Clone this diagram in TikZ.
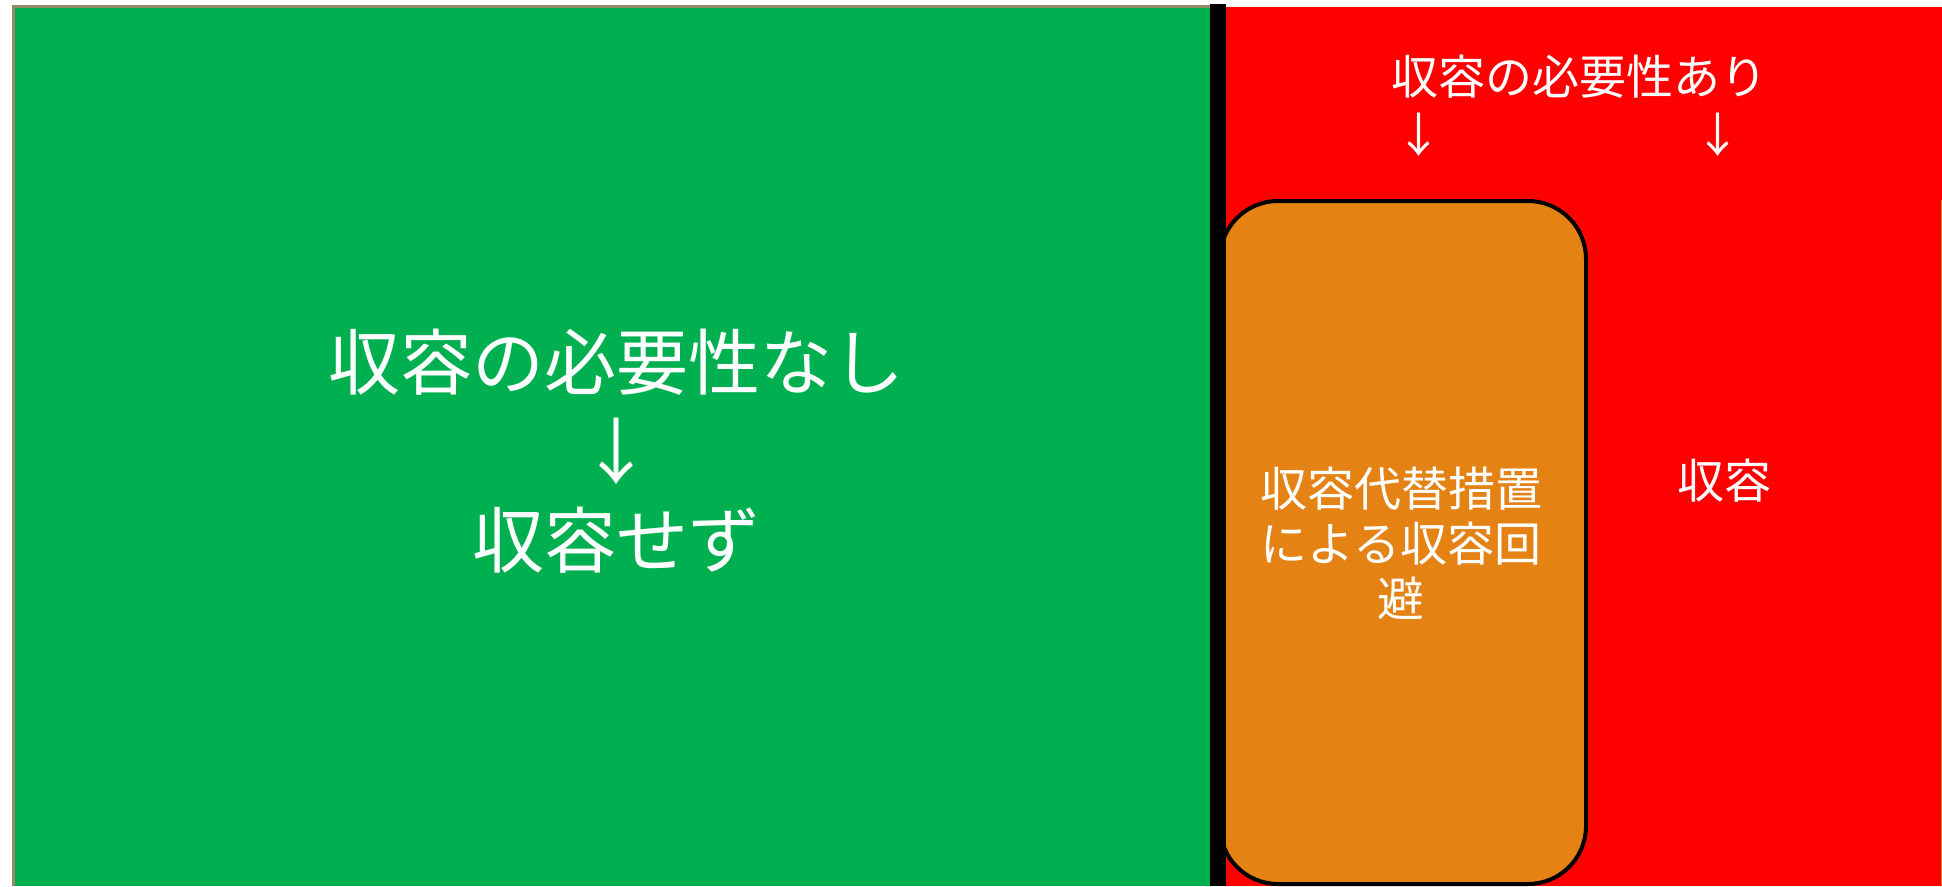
\documentclass[tikz,border=0pt]{standalone}
\usepackage{fontspec}
\newfontfamily\jp{Noto Sans CJK JP}
\definecolor{zgreen}{HTML}{00B050}
\definecolor{zred}{HTML}{FF0000}
\definecolor{zorange}{HTML}{E48214}
\definecolor{zedge}{HTML}{948A6A}
\tikzset{
  bigtxt/.style={text=white, align=center, inner sep=0pt, font=\jp\fontsize{72}{89}\selectfont},
  smalltxt/.style={text=white, align=center, inner sep=0pt, font=\jp\fontsize{47}{55}\selectfont},
}
\begin{document}
\begin{tikzpicture}[x=1pt,y=-1pt]
\useasboundingbox (0,0) rectangle (1942,886);
% green area
\fill[zgreen] (13,6) rectangle (1212,886);
\draw[zedge, line width=3pt] (13,886) -- (13,6) -- (1212,6);
% red area
\fill[zred] (1226,7) rectangle (1942,886);
\fill[zorange] (1940.5,200) rectangle (1942,886);
% orange rounded box
\draw[black, line width=4pt, fill=zorange, rounded corners=58pt] (1220,201) rectangle (1586,884);
% black divider
\fill[black] (1210,4) rectangle (1226,886);
% texts
\node[bigtxt] (nashi) at (616,451) {収容の必要性なし\\↓\\収容せず};
\node[smalltxt] (ari) at (1579,77) {収容の必要性あり};
\node[smalltxt] (arrA) at (1419,135) {↓};
\node[smalltxt] (arrB) at (1718,135) {↓};
\node[smalltxt] (alt) at (1401,543) {収容代替措置\\による収容回\\避};
\node[smalltxt] (shuuyou) at (1724,481) {収容};
\end{tikzpicture}
\end{document}
